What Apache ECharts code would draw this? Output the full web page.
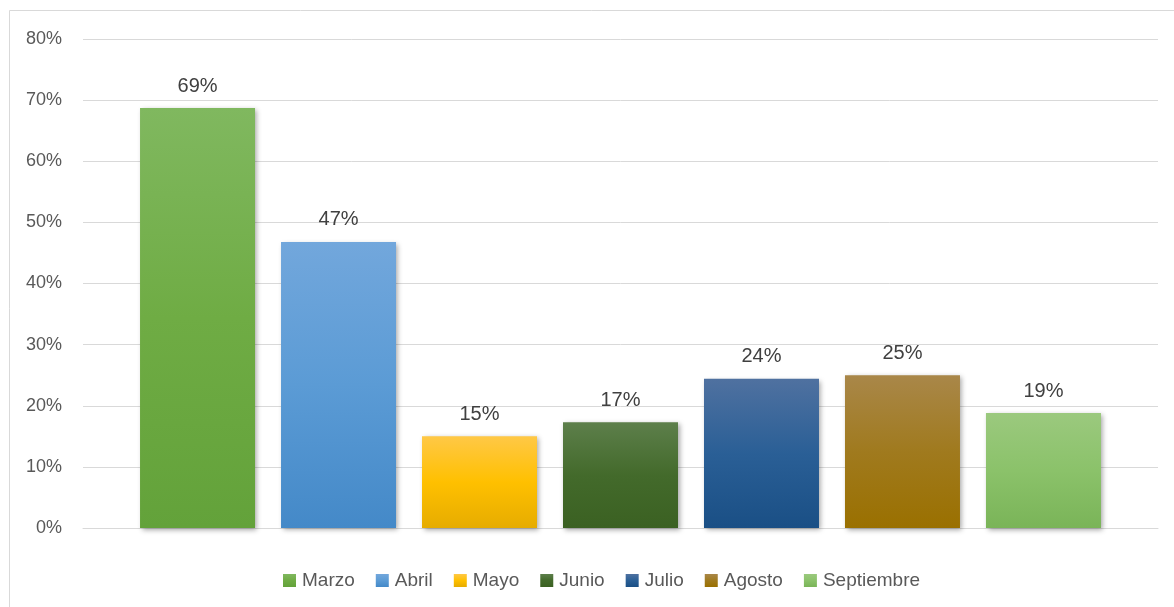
<!DOCTYPE html>
<html>
<head>
<meta charset="utf-8">
<script src="https://cdn.jsdelivr.net/npm/echarts@6/dist/echarts.min.js"></script>
<style>
html,body{margin:0;padding:0;background:#fff;}
#main{width:1174px;height:607px;}
</style>
</head>
<body>
<div id="main"></div>
<script>
const categories = [''];
const seriesNames = ['Marzo', 'Abril', 'Mayo', 'Junio', 'Julio', 'Agosto', 'Septiembre'];
const seriesValues = [68.7, 46.8, 15.0, 17.3, 24.4, 25.0, 18.8];
const yTicks = [0, 10, 20, 30, 40, 50, 60, 70, 80];
const gradientStops = [
  ['#80b85f', '#6fac44', '#63a23a'],
  ['#72a7dc', '#5b9bd5', '#4489c8'],
  ['#ffc846', '#ffc000', '#e6ac00'],
  ['#5d7f4b', '#436a2b', '#3b6122'],
  ['#4f71a0', '#2a5f96', '#1a4f85'],
  ['#a98749', '#a07a1e', '#9a7000'],
  ['#9bc97e', '#8bc26a', '#7ab458']
];

const chart = echarts.init(document.getElementById('main'));
const series = seriesNames.map((name, i) => ({
  name: name,
  type: 'bar',
  data: [seriesValues[i]],
  barWidth: 115,
  barGap: '22.6%',
  itemStyle: {
    color: {
      type: 'linear', x: 0, y: 0, x2: 0, y2: 1,
      colorStops: [
        {offset: 0, color: gradientStops[i][0]},
        {offset: 0.5, color: gradientStops[i][1]},
        {offset: 1, color: gradientStops[i][2]}
      ]
    },
    shadowColor: 'rgba(0,0,0,0.35)',
    shadowBlur: 5,
    shadowOffsetX: 2,
    shadowOffsetY: 2
  },
  label: {
    show: true,
    position: 'top',
    distance: 12,
    fontFamily: 'Liberation Sans',
    fontSize: 20,
    color: '#404040',
    formatter: p => Math.round(p.value) + '%'
  }
}));

chart.setOption({
  animation: false,
  backgroundColor: '#ffffff',
  graphic: [{
    type: 'polyline',
    shape: {points: [[9.5, 607], [9.5, 10.5], [1174, 10.5]]},
    style: {stroke: '#d9d9d9', lineWidth: 1, fill: null},
    silent: true
  }],
  grid: {left: 83, right: 16, top: 39, bottom: 79},
  legend: {
    data: seriesNames,
    left: 278,
    top: 566,
    icon: 'rect',
    itemWidth: 13,
    itemHeight: 13,
    itemGap: 21,
    itemStyle: {shadowBlur: 0, shadowOffsetX: 0, shadowOffsetY: 0},
    textStyle: {fontFamily: 'Liberation Sans', fontSize: 19, color: '#595959', padding: [0, 0, 0, 1]}
  },
  xAxis: {
    type: 'category',
    data: categories,
    axisLine: {show: true, lineStyle: {color: '#d9d9d9', width: 1}},
    axisTick: {show: false},
    axisLabel: {show: false}
  },
  yAxis: {
    type: 'value',
    min: yTicks[0],
    max: yTicks[yTicks.length - 1],
    interval: yTicks[1] - yTicks[0],
    axisLine: {show: false},
    axisTick: {show: false},
    splitLine: {lineStyle: {color: '#d9d9d9', width: 1}},
    axisLabel: {
      margin: 21,
      fontFamily: 'Liberation Sans',
      fontSize: 18,
      color: '#595959',
      formatter: '{value}%'
    }
  },
  series: series
});
</script>
</body>
</html>
